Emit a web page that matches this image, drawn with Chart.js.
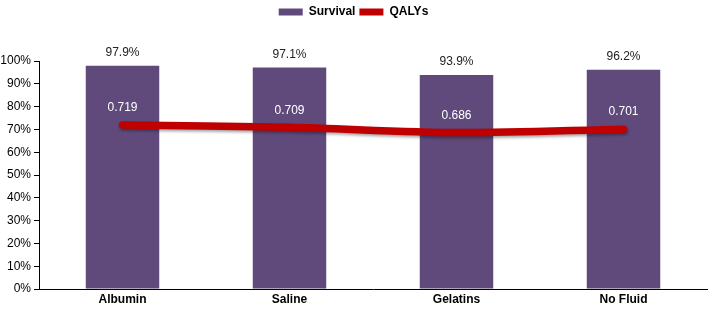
<!DOCTYPE html>
<html>
<head>
<meta charset="utf-8">
<script src="https://cdn.jsdelivr.net/npm/chart.js@4"></script>
<style>
  html, body { margin: 0; padding: 0; background: #fff; }
  #wrap { width: 708px; height: 309px; }
</style>
</head>
<body>
<div id="wrap"><canvas id="chart"></canvas></div>
<script>
const categories = ['Albumin', 'Saline', 'Gelatins', 'No Fluid'];
const survival = [97.9, 97.1, 93.9, 96.2];
const qalys = [0.719, 0.709, 0.686, 0.701];

const FONT = '"Liberation Sans", Arial, sans-serif';

// draws the value labels above bars and line points
const valueLabels = {
    id: 'valueLabels',
    afterDatasetsDraw(chart) {
        const ctx = chart.ctx;
        ctx.save();
        ctx.font = '12px ' + FONT;
        ctx.textAlign = 'center';
        ctx.textBaseline = 'bottom';
        chart.getDatasetMeta(0).data.forEach((bar, i) => {
            ctx.fillStyle = '#222';
            ctx.fillText(survival[i].toFixed(1) + '%', bar.x, bar.y - 7);
        });
        chart.getDatasetMeta(1).data.forEach((pt, i) => {
            ctx.fillStyle = '#fff';
            ctx.fillText(qalys[i].toFixed(3), pt.x, pt.y - 11);
        });
        ctx.restore();
    }
};

const lineShadow = {
    id: 'lineShadow',
    beforeDatasetDraw(chart, args) {
        if (args.index === 1) {
            chart.ctx.save();
            chart.ctx.shadowColor = 'rgba(0,0,0,0.35)';
            chart.ctx.shadowBlur = 3;
            chart.ctx.shadowOffsetX = 1;
            chart.ctx.shadowOffsetY = 2;
        }
    },
    afterDatasetDraw(chart, args) {
        if (args.index === 1) chart.ctx.restore();
    }
};

// leave room above the bars for the labels, like the original
const legendSpace = {
    id: 'legendSpace',
    beforeInit(chart) {
        const fit = chart.legend.fit;
        chart.legend.fit = function () {
            fit.bind(chart.legend)();
            this.height = 59;
        };
    }
};

new Chart(document.getElementById('chart'), {
    data: {
        labels: categories,
        datasets: [
            {
                type: 'bar',
                label: 'Survival',
                data: survival,
                backgroundColor: '#604a7b',
                barPercentage: 0.88,
                categoryPercentage: 0.5,
                order: 2
            },
            {
                type: 'line',
                label: 'QALYs',
                data: qalys.map(v => v * 100),
                borderColor: '#c00000',
                backgroundColor: '#c00000',
                borderWidth: 7.5,
                borderCapStyle: 'round',
                pointRadius: 0,
                tension: 0.3,
                order: 1
            }
        ]
    },
    options: {
        responsive: true,
        maintainAspectRatio: false,
        animation: false,
        layout: { padding: { left: 0, right: 1, top: 2, bottom: 0 } },
        plugins: {
            legend: {
                position: 'top',
                labels: {
                    boxWidth: 24,
                    boxHeight: 7,
                    padding: 4,
                    color: '#000',
                    font: { family: FONT, size: 12, weight: 'bold' },
                    generateLabels(chart) {
                        return chart.data.datasets.map((ds, i) => ({
                            text: ds.label,
                            fillStyle: ds.backgroundColor,
                            strokeStyle: ds.backgroundColor,
                            lineWidth: 0,
                            datasetIndex: i
                        }));
                    }
                }
            },
            tooltip: { enabled: false }
        },
        scales: {
            x: {
                offset: true,
                grid: { display: false, drawTicks: false },
                border: { color: '#000', width: 1 },
                ticks: {
                    color: '#000',
                    padding: 3,
                    font: { family: FONT, size: 12, weight: 'bold' }
                },
                afterFit(scale) { scale.height = 20; }
            },
            y: {
                min: 0,
                max: 100,
                ticks: {
                    stepSize: 10,
                    color: '#000',
                    padding: 3,
                    font: { family: FONT, size: 12 },
                    callback: v => v + '%'
                },
                grid: {
                    drawOnChartArea: false,
                    drawTicks: true,
                    tickLength: 5,
                    color: '#000'
                },
                border: { color: '#000', width: 1 },
                afterFit(scale) { scale.width = 39; }
            }
        }
    },
    plugins: [legendSpace, lineShadow, valueLabels]
});
</script>
</body>
</html>
